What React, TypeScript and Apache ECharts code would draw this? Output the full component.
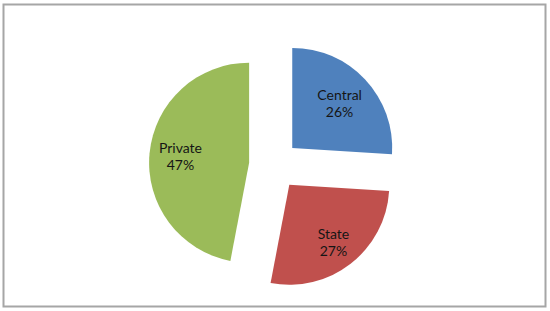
import React, { useEffect, useRef } from "react";
import * as echarts from "echarts";

const categories = ["Central", "State", "Private"];
const values = [26, 27, 47];
const colors = ["#4F81BD", "#C0504D", "#9BBB59"];
const labelInnerRadius = [24, 38, 32];

export default function App() {
  const ref = useRef<HTMLDivElement>(null);
  useEffect(() => {
    if (!ref.current) return;
    const chart = echarts.init(ref.current, null, { renderer: "svg" });
    const data = categories.map((name, i) => ({
      name,
      value: values[i],
      selected: true,
      itemStyle: { color: colors[i] },
    }));
    const common = {
      type: "pie" as const,
      center: [274, 165],
      startAngle: 90,
      clockwise: true,
      selectedMode: "multiple" as const,
      selectedOffset: 25,
      silent: true,
      avoidLabelOverlap: false,
      emphasis: { disabled: true },
      labelLine: { show: false },
    };
    const labelSeries = categories.map((_, k) => ({
      ...common,
      radius: [labelInnerRadius[k], 100],
      data: data.map((d, i) => ({
        ...d,
        itemStyle: { color: "rgba(0,0,0,0)" },
        label: { show: i === k },
      })),
      label: {
        show: true,
        position: "inside",
        formatter: "{b}\n{d}%",
        fontFamily: "Lato",
        fontSize: 14,
        lineHeight: 17,
        color: "#151515",
      },
    }));
    chart.setOption({
      animation: false,
      graphic: [
        {
          type: "rect",
          shape: { x: 3.5, y: 4.5, width: 542, height: 302 },
          style: { fill: "#fff", stroke: "#a6a6a6", lineWidth: 2 },
          z: -10,
        },
      ],
      series: [
        {
          ...common,
          radius: [0, 100],
          label: { show: false },
          data,
        },
        ...labelSeries,
      ],
    });
    return () => chart.dispose();
  }, []);
  return (
    <div
      ref={ref}
      style={{ position: "fixed", left: 0, top: 0, width: 550, height: 311, background: "#fff" }}
    />
  );
}
